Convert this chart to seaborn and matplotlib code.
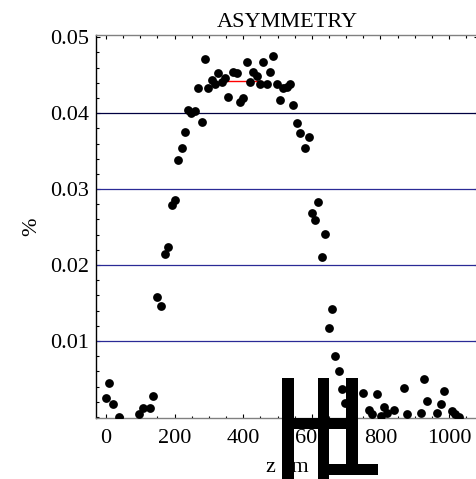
import matplotlib
matplotlib.use("Agg")
import matplotlib.pyplot as plt
from matplotlib.patches import Rectangle
from matplotlib.ticker import MultipleLocator, FixedLocator
import seaborn as sns
import pandas as pd

# ---- data ----
z_cm = [288.6, 267.3, 298.3, 308.2, 317.8, 327.4, 337.3, 346.9, 356.6, 371.1,
        381.0, 390.7, 400.3, 410.2, 419.8, 429.4, 439.4, 449.0, 458.6, 468.5,
        478.1, 487.8, 497.7, 507.3, 517.0, 526.8, 536.4, 546.1, 557.7, 565.6,
        591.0, 581.1, 238.2, 247.8, 260.3, 279.0, 230.3, 220.7, 209.9, 201.2,
        191.5, 181.6, 172.0, 147.8, 160.3, 9.6, 0.0, 19.5, 38.8, 97.1,
        107.0, 128.3, 136.2, 618.4, 600.6, 610.2, 639.4, 629.7, 658.9, 649.3,
        668.5, 678.4, 688.0, 697.7, 748.4, 767.6, 775.2, 791.0, 800.9, 810.5,
        820.1, 839.7, 868.8, 878.4, 917.5, 927.1, 936.7, 965.9, 975.8, 985.4,
        1008.7, 1018.4, 1030.0]
asym = [0.04711, 0.04329, 0.04329, 0.04439, 0.04386, 0.04527, 0.04416, 0.04461, 0.04219, 0.04548,
        0.04527, 0.04153, 0.04198, 0.04680, 0.04416, 0.04548, 0.04491, 0.04382, 0.04680, 0.04382,
        0.04548, 0.04755, 0.04382, 0.04175, 0.04329, 0.04343, 0.04386, 0.04113, 0.03868, 0.03736,
        0.03692, 0.03539, 0.04043, 0.04000, 0.04026, 0.03889, 0.03758, 0.03539, 0.03385, 0.02858,
        0.02792, 0.02242, 0.02146, 0.01576, 0.01461, 0.00451, 0.00253, 0.00166, 0.00000, 0.00038,
        0.00121, 0.00121, 0.00279, 0.02831, 0.02682, 0.02594, 0.02410, 0.02103, 0.01418, 0.01175,
        0.00802, 0.00605, 0.00364, 0.00187, 0.00319, 0.00091, 0.00038, 0.00298, 0.00012, 0.00127,
        0.00055, 0.00091, 0.00385, 0.00038, 0.00055, 0.00495, 0.00210, 0.00055, 0.00166, 0.00341,
        0.00078, 0.00038, 0.00003]

mean_seg_z = [347, 454]
mean_seg_val = [0.04426, 0.04426]

ref_levels = [0.01, 0.02, 0.03, 0.04]
ref_colors = ["#2a2a96", "#2a2a96", "#2a2a96", "#000040"]

x_ticks = [0, 200, 400, 600, 800, 1000]
y_ticks = [0.01, 0.02, 0.03, 0.04, 0.05]
y_ticklabels = ["0.01", "0.02", "0.03", "0.04", "0.05"]

title = "ASYMMETRY"
xlabel = "z cm"
ylabel = "%"

# ---- drawing ----
sns.set_style("ticks")
plt.rcParams["font.family"] = ["Liberation Serif", "DejaVu Serif"]
plt.rcParams["font.size"] = 16
plt.rcParams["text.color"] = "black"
plt.rcParams["axes.labelcolor"] = "black"
plt.rcParams["axes.titlecolor"] = "black"

W, H = 477, 479
fig = plt.figure(figsize=(W / 100, H / 100), dpi=100)
ax = fig.add_axes([96 / W, 1 - 417.7 / H, (478 - 96) / W, (417.7 - 35.3) / H])

df = pd.DataFrame({"z": z_cm, "a": asym})

for lev, col in zip(ref_levels, ref_colors):
    ax.axhline(lev, color=col, lw=0.9, zorder=1)

ax.plot(mean_seg_z, mean_seg_val, color="red", lw=1.0, zorder=2)

sns.scatterplot(data=df, x="z", y="a", color="black", s=40, linewidth=0,
                ax=ax, zorder=3, legend=False)

ax.set_xlim(-29.2, 1084.5)
ax.set_ylim(-0.0001, 0.05025)

ax.xaxis.set_major_locator(FixedLocator(x_ticks))
ax.xaxis.set_minor_locator(MultipleLocator(50))
ax.yaxis.set_major_locator(FixedLocator(y_ticks))
ax.set_yticklabels(y_ticklabels)
ax.yaxis.set_minor_locator(MultipleLocator(0.002))

ax.tick_params(which="both", direction="in", top=True, right=True,
               labelsize=16, colors="black")
ax.tick_params(which="major", length=3.0, width=0.8)
ax.tick_params(which="minor", length=1.8, width=0.8)
ax.tick_params(axis="x", pad=8)
ax.tick_params(axis="y", pad=5)

for side in ["top", "right", "bottom"]:
    ax.spines[side].set_color("#808080")
    ax.spines[side].set_linewidth(1.0)
ax.spines["left"].set_color("black")
ax.spines["left"].set_linewidth(1.0)

ax.set_title(title, fontsize=16, pad=6)
ax.set_xlabel(xlabel, fontsize=16, labelpad=7)
ax.set_ylabel(ylabel, fontsize=16, labelpad=6)

# overlay block glyph at the bottom (figure pixel boxes)
boxes = [(282, 378, 294, 479), (318, 378, 329.5, 479), (346, 378, 358, 465),
         (282, 418, 358, 429.3), (318, 464, 378, 475)]
for x0, y0, x1, y1 in boxes:
    fig.add_artist(Rectangle((x0 / W, 1 - y1 / H), (x1 - x0) / W, (y1 - y0) / H,
                             transform=fig.transFigure, color="black", lw=0,
                             zorder=10))

fig.savefig("out.png", dpi=100)
